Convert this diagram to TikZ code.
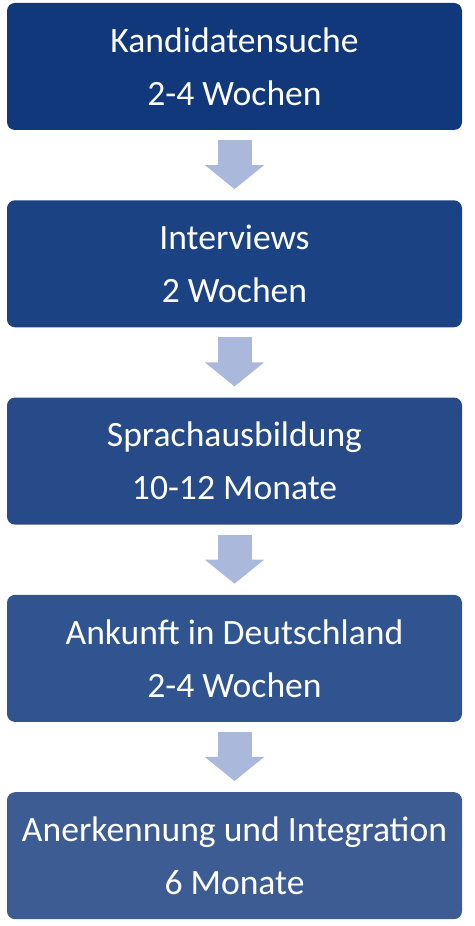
\documentclass[tikz,border=0pt]{standalone}
\usepackage{fontspec}
\setmainfont{Carlito}
\usepackage{tikz}
\usetikzlibrary{positioning}
\usetikzlibrary{arrows.meta}
\definecolor{phaseA}{HTML}{10387A}
\definecolor{phaseB}{HTML}{1B4282}
\definecolor{phaseC}{HTML}{264B88}
\definecolor{phaseD}{HTML}{30548F}
\definecolor{phaseE}{HTML}{3D5C94}
\definecolor{flowcol}{HTML}{AAB8DB}
\tikzstyle{phase} = [rectangle, rounded corners=8pt, text=white, align=center, text centered, minimum width=455pt, minimum height=127pt, inner sep=0pt, font=\fontsize{35.6}{53}\selectfont]
\tikzstyle{flow}  = [draw=flowcol, line width=34pt, -{Triangle[width=58pt,length=24pt]}, shorten <=10pt, shorten >=11pt]

\begin{document}
\begin{tikzpicture}[x=1pt, y=1pt, node distance=197.3pt]
	\useasboundingbox (0,0) rectangle (474,926);
	% place nodes
	\node [phase, fill=phaseA] at (234.5,859.5) (N1) {Kandidatensuche\\2-4 Wochen};
	\node [phase, fill=phaseB, below of=N1] (N2) {Interviews\\2 Wochen};
	\node [phase, fill=phaseC, below of=N2] (N3) {Sprachausbildung\\10-12 Monate};
	\node [phase, fill=phaseD, below of=N3] (N4) {Ankunft in Deutschland\\2-4 Wochen};
	\node [phase, fill=phaseE, below of=N4] (N5) {Anerkennung und Integration\\6 Monate};

	% draw edges
	\path [flow] (N1) -- (N2);
	\path [flow] (N2) -- (N3);
	\path [flow] (N3) -- (N4);
	\path [flow] (N4) -- (N5);
\end{tikzpicture}
\end{document}
